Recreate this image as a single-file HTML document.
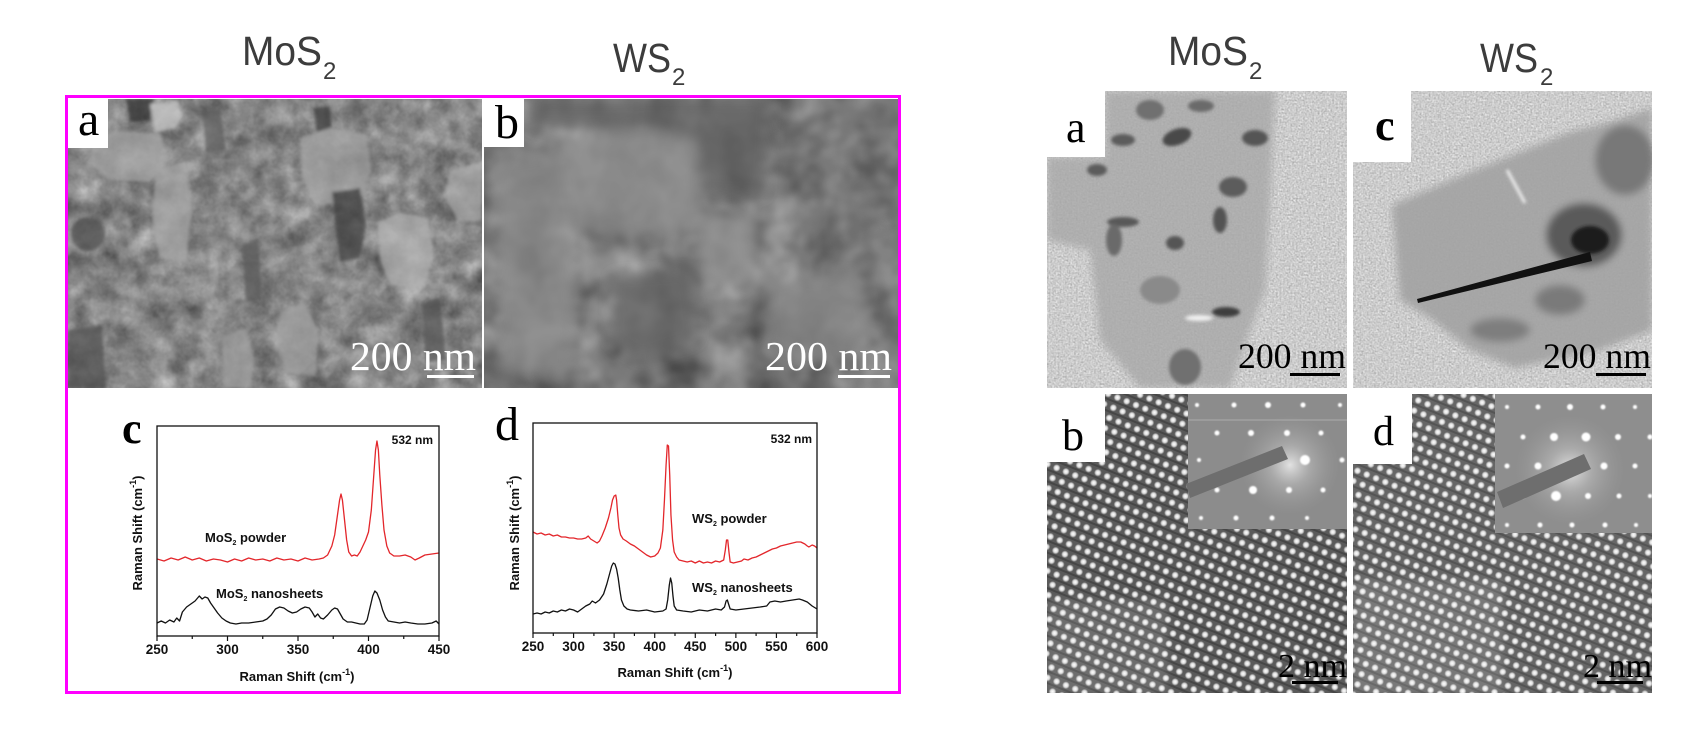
<!DOCTYPE html>
<html><head><meta charset="utf-8"><style>
html,body{margin:0;padding:0;background:#fff;width:1700px;height:736px;overflow:hidden}
svg{display:block}
.hd{font-family:"Liberation Sans","Noto Sans CJK SC",sans-serif;fill:#3c3c3c}
.sf{font-family:"Liberation Serif",serif}
.ar{font-family:"Liberation Sans",Arial,sans-serif;font-weight:bold;fill:#111}
</style></head><body>
<svg xmlns="http://www.w3.org/2000/svg" width="1700" height="736" viewBox="0 0 1700 736">
<defs>
<clipPath id="cSa"><rect x="68" y="99" width="414" height="289"/></clipPath>
<clipPath id="cSb"><rect x="484" y="99" width="414" height="289"/></clipPath>
<clipPath id="cTa"><rect x="1047" y="91" width="300" height="297"/></clipPath>
<clipPath id="cTc"><rect x="1353" y="91" width="299" height="297"/></clipPath>
<clipPath id="cTb"><rect x="1047" y="394" width="300" height="299"/></clipPath>
<clipPath id="cTd"><rect x="1353" y="394" width="299" height="299"/></clipPath>
<clipPath id="cRc"><rect x="157" y="426" width="282" height="210"/></clipPath>
<clipPath id="cRd"><rect x="533" y="423" width="284" height="210"/></clipPath>

<filter id="fa" x="0" y="0" width="1" height="1" color-interpolation-filters="sRGB">
<feTurbulence type="fractalNoise" baseFrequency="0.04" numOctaves="4" seed="11"/>
<feColorMatrix type="matrix" values="0.33 0.33 0.34 0 0 0.33 0.33 0.34 0 0 0.33 0.33 0.34 0 0 0 0 0 0 1"/>
<feComponentTransfer><feFuncR type="linear" slope="0.85" intercept="0.1"/><feFuncG type="linear" slope="0.85" intercept="0.1"/><feFuncB type="linear" slope="0.85" intercept="0.1"/></feComponentTransfer>
</filter>
<filter id="fb" x="0" y="0" width="1" height="1" color-interpolation-filters="sRGB">
<feTurbulence type="fractalNoise" baseFrequency="0.02" numOctaves="3" seed="5"/>
<feColorMatrix type="matrix" values="0.33 0.33 0.34 0 0 0.33 0.33 0.34 0 0 0.33 0.33 0.34 0 0 0 0 0 0 1"/>
<feComponentTransfer><feFuncR type="linear" slope="0.9" intercept="0.03"/><feFuncG type="linear" slope="0.9" intercept="0.03"/><feFuncB type="linear" slope="0.9" intercept="0.03"/></feComponentTransfer>
</filter>
<filter id="ft" x="0" y="0" width="1" height="1" color-interpolation-filters="sRGB">
<feTurbulence type="fractalNoise" baseFrequency="0.55" numOctaves="1" seed="3"/>
<feColorMatrix type="matrix" values="0.33 0.33 0.34 0 0 0.33 0.33 0.34 0 0 0.33 0.33 0.34 0 0 0 0 0 0 1"/>
<feComponentTransfer><feFuncR type="linear" slope="0.6" intercept="0.5"/><feFuncG type="linear" slope="0.6" intercept="0.5"/><feFuncB type="linear" slope="0.6" intercept="0.5"/></feComponentTransfer>
</filter>
<filter id="b2"><feGaussianBlur stdDeviation="1.6"/></filter>
<filter id="b4"><feGaussianBlur stdDeviation="4"/></filter>
<filter id="b6"><feGaussianBlur stdDeviation="6"/></filter>
<filter id="b1"><feGaussianBlur stdDeviation="0.9"/></filter>
<radialGradient id="dotg"><stop offset="0" stop-color="#fff" stop-opacity="1"/><stop offset="0.55" stop-color="#f4f4f4" stop-opacity="0.85"/><stop offset="1" stop-color="#fff" stop-opacity="0"/></radialGradient>
<radialGradient id="glow"><stop offset="0" stop-color="#fff" stop-opacity="0.75"/><stop offset="0.4" stop-color="#ddd" stop-opacity="0.35"/><stop offset="1" stop-color="#aaa" stop-opacity="0"/></radialGradient>
<pattern id="lat" patternUnits="userSpaceOnUse" width="10" height="11" patternTransform="rotate(22)">
<rect width="10" height="11" fill="#5a5a5a"/>
<rect y="9" width="10" height="2" fill="#464646"/>
<circle cx="5" cy="5" r="3.8" fill="url(#dotg)"/>
</pattern>
</defs>

<rect width="1700" height="736" fill="#fff"/>

<!-- headings -->
<text class="hd" x="242" y="65" font-size="41" textLength="80" lengthAdjust="spacingAndGlyphs">MoS</text>
<text class="hd" x="323" y="79" font-size="24">2</text>
<text class="hd" x="613" y="72" font-size="41" textLength="58" lengthAdjust="spacingAndGlyphs">WS</text>
<text class="hd" x="672" y="85" font-size="24">2</text>
<text class="hd" x="1168" y="65" font-size="41" textLength="80" lengthAdjust="spacingAndGlyphs">MoS</text>
<text class="hd" x="1249" y="79" font-size="24">2</text>
<text class="hd" x="1480" y="72" font-size="41" textLength="58" lengthAdjust="spacingAndGlyphs">WS</text>
<text class="hd" x="1540" y="85" font-size="24">2</text>

<!-- SEM a -->
<g clip-path="url(#cSa)">
<rect x="68" y="99" width="414" height="289" fill="#888"/>
<rect x="68" y="99" width="414" height="289" filter="url(#fa)"/>
<g filter="url(#b2)" opacity="0.7">
<polygon points="126,99 154,99 150,120 130,122" fill="#2e2e2e"/>
<polygon points="150,104 178,101 182,116 176,128 155,132" fill="#c8c8c8"/>
<polygon points="92,140 118,130 160,134 168,160 150,182 110,180 90,165" fill="#a9a9a9"/>
<polygon points="314,108 330,106 332,138 318,142" fill="#3a3a3a"/>
<polygon points="300,138 330,128 366,134 372,170 360,200 318,206 304,180" fill="#a4a4a4"/>
<polygon points="332,192 360,188 366,226 360,258 340,262 336,230" fill="#3e3e3e"/>
<ellipse cx="88" cy="234" rx="17" ry="17" fill="#484848"/>
<polygon points="378,222 400,212 428,218 434,255 424,288 390,286 380,260" fill="#b4b4b4"/>
<polygon points="156,170 186,162 192,210 186,262 160,258 152,215" fill="#a8a8a8"/>
<polygon points="450,170 482,163 482,220 458,222 446,198" fill="#a8a8a8"/>
<polygon points="280,312 304,302 318,330 316,376 286,372 276,340" fill="#a2a2a2"/>
<polygon points="68,330 102,325 106,388 68,388" fill="#505050"/>
<polygon points="242,245 258,238 262,300 246,302" fill="#555"/>
<polygon points="202,112 220,108 226,150 206,152" fill="#585858"/>
<polygon points="422,305 440,298 446,360 426,362" fill="#555"/>
<polygon points="222,336 246,328 254,360 250,388 224,388" fill="#a0a0a0"/>
</g>
<rect x="68" y="99" width="40" height="49" fill="#fff"/>
<text class="sf" x="78" y="135" font-size="48" fill="#000">a</text>
<text class="sf" x="350" y="370" font-size="41" fill="#fff" textLength="126" lengthAdjust="spacingAndGlyphs">200 nm</text>
<rect x="427" y="375" width="47" height="3" fill="#fff"/>
</g>

<!-- SEM b -->
<g clip-path="url(#cSb)">
<rect x="484" y="99" width="414" height="289" fill="#7a7a7a"/>
<rect x="484" y="99" width="414" height="289" filter="url(#fb)"/>
<g filter="url(#b6)" opacity="0.7">
<polygon points="620,99 770,99 765,196 630,190" fill="#5c5c5c"/>
<polygon points="530,99 640,99 637,130 530,128" fill="#606060"/>
<polygon points="560,140 640,128 697,140 700,230 610,240 552,220" fill="#939393"/>
<polygon points="700,222 750,215 755,283 702,285" fill="#9c9c9c"/>
<polygon points="612,275 690,270 698,340 640,360 610,340" fill="#636363"/>
<polygon points="765,280 860,272 872,330 840,360 770,355" fill="#8a8a8a"/>
<polygon points="495,160 560,150 578,260 570,380 500,375" fill="#8e8e8e"/>
</g>
<rect x="484" y="99" width="40" height="48" fill="#fff"/>
<text class="sf" x="495" y="138" font-size="48" fill="#000">b</text>
<text class="sf" x="765" y="370" font-size="41" fill="#fff" textLength="127" lengthAdjust="spacingAndGlyphs">200 nm</text>
<rect x="838" y="375" width="52" height="3" fill="#fff"/>
</g>

<!-- magenta frame -->
<rect x="66.5" y="96.5" width="833" height="596" fill="none" stroke="#ff00ff" stroke-width="3"/>

<!-- Raman c -->
<g clip-path="url(#cRc)">
<g transform="matrix(1.41 0 0 1 -195.5 0)" fill="none" stroke-linejoin="round">
<polyline vector-effect="non-scaling-stroke" stroke="#e3262b" stroke-width="1.3" points="250,559 255,561 260,558 265,560 270,557 275,560 280,558 285,561 290,559 295,560 300,562 305,559 310,561 315,558 320,560 325,559 330,561 335,558 340,560 345,559 350,561 355,558 360,560 365,559 368,558 371,555 374,546 376,535 378,515 379.5,500 380.5,494 381.5,500 383,520 384.5,540 386,552 388,556 390,555 392,556 394,552 396,546 398,540 400,532 402,510 403.5,480 405,450 406,441 407,450 408,475 409.5,505 411,530 413,546 415,553 418,556 422,556 426,555 430,557 433,560 436,558 440,555 445,554 450,553"/>
<polyline vector-effect="non-scaling-stroke" stroke="#111" stroke-width="1.3" points="250,623 253,621 256,623 259,620 262,622 264,618 266,621 268,612 271,607 274,604 277,601 280,596 282,599 284,597 286,598 288,603 290,607 293,613 296,618 299,621 302,623 306,624 310,623 315,623 320,622 325,621 328,619 331,615 334,609 337,607 340,608 343,611 346,613 349,612 352,609 355,607 358,608 360,612 362,617 364,614 366,618 368,619 371,615 374,610 376,608 378,609 380,614 382,619 385,622 388,622 391,623 394,624 397,624 399,620 401,608 403,596 404.5,591 406,593 408,600 410,610 412,617 414,621 418,622 422,623 426,622 430,623 435,624 440,624 445,623 448,621 450,624"/>
</g>
</g>
<rect x="157" y="426" width="282" height="210" fill="none" stroke="#111" stroke-width="1.3"/>
<g stroke="#111" stroke-width="1.2">
<line x1="157" y1="636" x2="157" y2="641"/><line x1="227.5" y1="636" x2="227.5" y2="641"/><line x1="298" y1="636" x2="298" y2="641"/><line x1="368.5" y1="636" x2="368.5" y2="641"/><line x1="439" y1="636" x2="439" y2="641"/>
<line x1="192.25" y1="636" x2="192.25" y2="639"/><line x1="262.75" y1="636" x2="262.75" y2="639"/><line x1="333.25" y1="636" x2="333.25" y2="639"/><line x1="403.75" y1="636" x2="403.75" y2="639"/>
</g>
<g class="ar" font-size="13.5" text-anchor="middle">
<text x="157" y="654">250</text><text x="227.5" y="654">300</text><text x="298" y="654">350</text><text x="368.5" y="654">400</text><text x="439" y="654">450</text>
</g>
<text class="ar" x="297" y="681" font-size="13" text-anchor="middle">Raman Shift (cm<tspan font-size="9" dy="-6">-1</tspan><tspan dy="6">)</tspan></text>
<text class="ar" font-size="13" text-anchor="middle" transform="translate(142 533) rotate(-90)">Raman Shift (cm<tspan font-size="9" dy="-6">-1</tspan><tspan dy="6">)</tspan></text>
<text class="ar" x="433" y="444" font-size="12" text-anchor="end">532 nm</text>
<text class="ar" x="205" y="542" font-size="13">MoS<tspan font-size="7" dy="3">2</tspan><tspan dy="-3"> powder</tspan></text>
<text class="ar" x="216" y="598" font-size="13">MoS<tspan font-size="7" dy="3">2</tspan><tspan dy="-3"> nanosheets</tspan></text>
<text class="sf" x="122" y="443" font-size="44" font-weight="bold" fill="#000">c</text>

<!-- Raman d -->
<g clip-path="url(#cRd)">
<g transform="matrix(0.81143 0 0 1 330.143 0)" fill="none" stroke-linejoin="round">
<polyline vector-effect="non-scaling-stroke" stroke="#e3262b" stroke-width="1.3" points="250,532 255,534 260,533 265,535 270,534 275,536 280,535 285,537 290,537 295,538 300,538 305,539 310,539 315,538 318,536 321,539 325,541 329,543 332,541 335,536 339,528 343,518 346,508 348,500 350,496 352,495 353,500 354.5,515 356,528 358,535 361,539 365,541 370,544 375,546 380,549 385,552 390,555 395,557 400,556 404,553 407,548 410,530 412,500 414,465 415.5,445 417,446 418.5,475 420,515 422,540 424,552 427,557 430,560 435,561 440,562 445,561 450,563 455,561 460,563 465,562 470,563 475,561 480,562 485,560 487,550 488.5,540 490,540 491.5,552 493,562 497,563 502,562 507,561 510,559 515,560 520,558 525,557 530,555 535,553 540,551 545,549 550,548 555,546 560,545 565,544 570,543 575,542 580,542 585,544 588,546 590,547 594,545 597,546 600,548"/>
<polyline vector-effect="non-scaling-stroke" stroke="#111" stroke-width="1.3" points="250,614 255,613 260,614 265,612 270,613 275,611 280,612 285,610 290,611 295,609 300,610 305,612 310,609 315,606 320,604 323,601 327,603 332,600 337,594 341,584 344,575 347,566 349,563 351,564 353,569 355,578 357,590 359,600 362,606 366,609 370,610 380,611 390,610 400,612 410,611 414,609 416,600 418,585 419.5,578 421,583 422.5,596 424,606 427,610 435,611 445,612 455,610 465,611 475,609 482,610 486,607 488,601 489.5,600 491,604 493,609 500,610 510,609 520,608 530,607 538,606 542,602 548,601 555,602 562,601 570,600 578,599 582,600 588,602 594,606 600,609"/>
</g>
</g>
<rect x="533" y="423" width="284" height="210" fill="none" stroke="#111" stroke-width="1.3"/>
<g stroke="#111" stroke-width="1.2">
<line x1="533" y1="633" x2="533" y2="638"/><line x1="573.57" y1="633" x2="573.57" y2="638"/><line x1="614.14" y1="633" x2="614.14" y2="638"/><line x1="654.71" y1="633" x2="654.71" y2="638"/><line x1="695.29" y1="633" x2="695.29" y2="638"/><line x1="735.86" y1="633" x2="735.86" y2="638"/><line x1="776.43" y1="633" x2="776.43" y2="638"/><line x1="817" y1="633" x2="817" y2="638"/>
<line x1="553.3" y1="633" x2="553.3" y2="636"/><line x1="593.9" y1="633" x2="593.9" y2="636"/><line x1="634.4" y1="633" x2="634.4" y2="636"/><line x1="675" y1="633" x2="675" y2="636"/><line x1="715.6" y1="633" x2="715.6" y2="636"/><line x1="756.1" y1="633" x2="756.1" y2="636"/><line x1="796.7" y1="633" x2="796.7" y2="636"/>
</g>
<g class="ar" font-size="13.5" text-anchor="middle">
<text x="533" y="651">250</text><text x="573.57" y="651">300</text><text x="614.14" y="651">350</text><text x="654.71" y="651">400</text><text x="695.29" y="651">450</text><text x="735.86" y="651">500</text><text x="776.43" y="651">550</text><text x="817" y="651">600</text>
</g>
<text class="ar" x="675" y="677" font-size="13" text-anchor="middle">Raman Shift (cm<tspan font-size="9" dy="-6">-1</tspan><tspan dy="6">)</tspan></text>
<text class="ar" font-size="13" text-anchor="middle" transform="translate(519 533) rotate(-90)">Raman Shift (cm<tspan font-size="9" dy="-6">-1</tspan><tspan dy="6">)</tspan></text>
<text class="ar" x="812" y="443" font-size="12" text-anchor="end">532 nm</text>
<text class="ar" x="692" y="523" font-size="13">WS<tspan font-size="7" dy="3">2</tspan><tspan dy="-3"> powder</tspan></text>
<text class="ar" x="692" y="592" font-size="13">WS<tspan font-size="7" dy="3">2</tspan><tspan dy="-3"> nanosheets</tspan></text>
<text class="sf" x="495" y="440" font-size="48" fill="#000">d</text>

<!-- TEM a -->
<g clip-path="url(#cTa)">
<rect x="1047" y="91" width="300" height="297" filter="url(#ft)"/>
<g filter="url(#b4)">
<polygon points="1105,91 1275,91 1270,200 1265,290 1250,330 1230,388 1140,388 1100,340 1090,250 1047,240 1047,157 1105,157" fill="#a8a8a8" opacity="0.8"/>
</g>
<g filter="url(#b2)">
<ellipse cx="1177" cy="137" rx="15" ry="8" fill="#4a4a4a" transform="rotate(-20 1177 137)"/>
<ellipse cx="1123" cy="140" rx="12" ry="6" fill="#5c5c5c"/>
<ellipse cx="1201" cy="106" rx="13" ry="6" fill="#6a6a6a"/>
<ellipse cx="1255" cy="138" rx="13" ry="8" fill="#555"/>
<ellipse cx="1150" cy="110" rx="14" ry="10" fill="#707070"/>
<ellipse cx="1097" cy="170" rx="10" ry="6" fill="#5c5c5c"/>
<ellipse cx="1123" cy="222" rx="16" ry="5" fill="#585858"/>
<ellipse cx="1114" cy="240" rx="8" ry="16" fill="#6a6a6a"/>
<ellipse cx="1220" cy="220" rx="7" ry="13" fill="#525252"/>
<ellipse cx="1233" cy="187" rx="14" ry="10" fill="#5c5c5c"/>
<ellipse cx="1175" cy="243" rx="9" ry="7" fill="#555"/>
<ellipse cx="1226" cy="312" rx="14" ry="5" fill="#3e3e3e"/>
<ellipse cx="1185" cy="367" rx="16" ry="18" fill="#707070"/>
<ellipse cx="1199" cy="318" rx="14" ry="3" fill="#f0f0f0"/>
<ellipse cx="1160" cy="290" rx="20" ry="14" fill="#8a8a8a"/>
</g>
<rect x="1047" y="91" width="58" height="66" fill="#fff"/>
<text class="sf" x="1066" y="142" font-size="44" fill="#000">a</text>
<text class="sf" x="1238" y="368" font-size="36" fill="#000" textLength="108" lengthAdjust="spacingAndGlyphs">200 nm</text>
<rect x="1290" y="373" width="50" height="3" fill="#000"/>
</g>

<!-- TEM c -->
<g clip-path="url(#cTc)">
<rect x="1353" y="91" width="299" height="297" filter="url(#ft)"/>
<g filter="url(#b4)">
<polygon points="1392,205 1470,172 1570,132 1610,122 1652,108 1652,330 1600,350 1515,368 1470,350 1430,318 1400,300" fill="#a2a2a2" opacity="0.9"/>
<ellipse cx="1625" cy="160" rx="30" ry="35" fill="#787878"/>
<ellipse cx="1584" cy="235" rx="38" ry="32" fill="#5a5a5a"/>
<ellipse cx="1560" cy="300" rx="25" ry="15" fill="#7a7a7a"/>
<ellipse cx="1500" cy="330" rx="30" ry="12" fill="#7e7e7e"/>
</g>
<g filter="url(#b2)">
<ellipse cx="1590" cy="240" rx="19" ry="14" fill="#1e1e1e"/>
<line x1="1507" y1="170" x2="1525" y2="203" stroke="#eee" stroke-width="3"/>
</g>
<polygon points="1417,299 1590,252 1592,261 1418,303" fill="#111"/>
<rect x="1353" y="91" width="58" height="71" fill="#fff"/>
<text class="sf" x="1375" y="140" font-size="44" font-weight="bold" fill="#000">c</text>
<text class="sf" x="1543" y="368" font-size="36" fill="#000" textLength="108" lengthAdjust="spacingAndGlyphs">200 nm</text>
<rect x="1596" y="373" width="50" height="3" fill="#000"/>
</g>

<!-- TEM b -->
<g clip-path="url(#cTb)">
<rect x="1047" y="394" width="300" height="299" fill="url(#lat)"/>
<rect x="1047" y="600" width="120" height="93" fill="#fff" opacity="0.12" filter="url(#b4)"/>
<rect x="1188" y="394" width="159" height="135" fill="#8c8c8c"/>
<rect x="1188" y="419" width="159" height="2" fill="#9c9c9c"/>
<circle cx="1290" cy="465" r="50" fill="url(#glow)"/>
<g fill="#fff" filter="url(#b1)">
<circle cx="1197" cy="405" r="2"/><circle cx="1234" cy="405" r="2.5"/><circle cx="1268" cy="405" r="3"/><circle cx="1303" cy="405" r="2.5"/><circle cx="1340" cy="405" r="2"/>
<circle cx="1217" cy="433" r="2.5"/><circle cx="1251" cy="433" r="3"/><circle cx="1287" cy="433" r="3"/><circle cx="1321" cy="433" r="2.5"/>
<circle cx="1199" cy="460" r="2"/><circle cx="1305" cy="460" r="5"/><circle cx="1342" cy="460" r="2.5"/>
<circle cx="1217" cy="490" r="2.5"/><circle cx="1253" cy="490" r="4"/><circle cx="1289" cy="490" r="3"/><circle cx="1323" cy="490" r="2.5"/>
<circle cx="1201" cy="518" r="2"/><circle cx="1236" cy="518" r="2.5"/><circle cx="1272" cy="518" r="2.5"/><circle cx="1307" cy="518" r="2"/>
</g>
<polygon points="1186,484 1282,446 1288,459 1190,498" fill="#6e6e6e"/>
<rect x="1047" y="394" width="58" height="68" fill="#fff"/>
<text class="sf" x="1062" y="450" font-size="44" fill="#000">b</text>
<text class="sf" x="1278" y="677" font-size="34" fill="#000" textLength="69" lengthAdjust="spacingAndGlyphs">2 nm</text>
<rect x="1292" y="681" width="46" height="3" fill="#000"/>
</g>

<!-- TEM d -->
<g clip-path="url(#cTd)">
<rect x="1353" y="394" width="299" height="299" fill="url(#lat)"/>
<rect x="1353" y="394" width="299" height="299" fill="#fff" opacity="0.08"/>
<rect x="1353" y="580" width="150" height="113" fill="#fff" opacity="0.12" filter="url(#b4)"/>
<rect x="1495" y="394" width="157" height="139" fill="#8e8e8e"/>
<circle cx="1570" cy="470" r="55" fill="url(#glow)"/>
<g fill="#fff" filter="url(#b1)">
<circle cx="1507" cy="407" r="2"/><circle cx="1538" cy="407" r="2.5"/><circle cx="1570" cy="407" r="3"/><circle cx="1603" cy="407" r="2.5"/><circle cx="1635" cy="407" r="2"/>
<circle cx="1523" cy="437" r="2.5"/><circle cx="1554" cy="437" r="4"/><circle cx="1586" cy="437" r="4.5"/><circle cx="1618" cy="437" r="3"/><circle cx="1650" cy="437" r="2.5"/>
<circle cx="1507" cy="466" r="2.5"/><circle cx="1538" cy="466" r="3.5"/><circle cx="1604" cy="466" r="3.5"/><circle cx="1635" cy="466" r="2.5"/>
<circle cx="1523" cy="496" r="2.5"/><circle cx="1556" cy="496" r="5"/><circle cx="1588" cy="496" r="3"/><circle cx="1619" cy="496" r="2.5"/><circle cx="1650" cy="496" r="2"/>
<circle cx="1507" cy="525" r="2"/><circle cx="1540" cy="525" r="2.5"/><circle cx="1572" cy="525" r="2.5"/><circle cx="1605" cy="525" r="2.5"/><circle cx="1636" cy="525" r="2"/>
</g>
<polygon points="1497,492 1584,454 1591,469 1503,508" fill="#6e6e6e"/>
<rect x="1353" y="394" width="59" height="70" fill="#fff"/>
<text class="sf" x="1373" y="445" font-size="42" fill="#000">d</text>
<text class="sf" x="1583" y="677" font-size="34" fill="#000" textLength="69" lengthAdjust="spacingAndGlyphs">2 nm</text>
<rect x="1597" y="681" width="46" height="3" fill="#000"/>
</g>
</svg>
</body></html>
